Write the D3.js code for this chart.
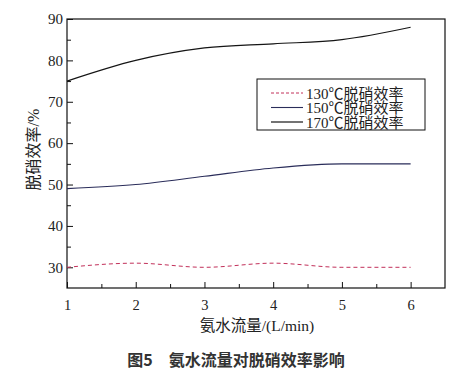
<!DOCTYPE html>
<html><head><meta charset="utf-8">
<script src="https://cdn.jsdelivr.net/npm/d3@7"></script>
<style>body{margin:0;background:#fff}svg{display:block}</style>
</head><body><svg id="c" width="473" height="378"></svg>
<script>
const flows = [1, 2, 3, 4, 5, 6];
const eff130 = [30, 31, 30, 31, 30, 30];
const eff150 = [49, 50, 52, 54, 55, 55];
const eff170 = [75, 80, 83, 84, 85, 88];
const seriesNames = ["130℃脱硝效率", "150℃脱硝效率", "170℃脱硝效率"];
const xTicks = [1, 2, 3, 4, 5, 6];
const yTicks = [30, 40, 50, 60, 70, 80, 90];

const svg = d3.select("#c");
const L = 67, R = 445, T = 19, B = 288;
const x = d3.scaleLinear().domain([1, 6.5]).range([L, R]);
const y = d3.scaleLinear().domain([25, 90]).range([B, T]);
const serif = "'Liberation Serif','Times New Roman',serif";
const cjk = "'Liberation Serif','Noto Sans CJK SC',serif";

// frame
svg.append("rect").attr("x", L).attr("y", T).attr("width", R - L).attr("height", B - T)
  .attr("fill", "none").attr("stroke", "#111").attr("stroke-width", 1.2);

// x axis
const xa = svg.append("g").attr("transform", `translate(0,${B})`)
  .call(d3.axisBottom(x).tickValues(xTicks).tickSizeInner(-6).tickSizeOuter(0).tickPadding(12).tickFormat(d3.format("d")));
xa.select(".domain").remove();
xa.selectAll("line").attr("stroke", "#111");
xa.selectAll("text").attr("font-family", serif).attr("font-size", 14.5).attr("fill", "#222");
svg.append("g").attr("transform", `translate(0,${B})`)
  .call(d3.axisBottom(x).tickValues(d3.range(1.5, 6.5, 1)).tickSize(-4).tickFormat(""))
  .call(g => g.select(".domain").remove()).selectAll("line").attr("stroke", "#111");

// y axis
const ya = svg.append("g").attr("transform", `translate(${L},0)`)
  .call(d3.axisLeft(y).tickValues(yTicks).tickSizeInner(-6).tickSizeOuter(0).tickPadding(4).tickFormat(d3.format("d")));
ya.select(".domain").remove();
ya.selectAll("line").attr("stroke", "#111");
ya.selectAll("text").attr("font-family", serif).attr("font-size", 15).attr("fill", "#222");
svg.append("g").attr("transform", `translate(${L},0)`)
  .call(d3.axisLeft(y).tickValues([35, 45, 55, 65, 75, 85]).tickSize(-4).tickFormat(""))
  .call(g => g.select(".domain").remove()).selectAll("line").attr("stroke", "#111");

// lines
const line = d3.line().x(d => x(d[0])).y(d => y(d[1])).curve(d3.curveMonotoneX);
const series = [
  {vals: eff130, color: "#c2305a", dash: "4,3", w: 1},
  {vals: eff150, color: "#2a2d5a", dash: null, w: 1.1},
  {vals: eff170, color: "#151515", dash: null, w: 1.2}
];
series.forEach(s => {
  svg.append("path").attr("d", line(flows.map((f, i) => [f, s.vals[i]])))
    .attr("fill", "none").attr("stroke", s.color).attr("stroke-width", s.w)
    .attr("stroke-dasharray", s.dash);
});

// legend
svg.append("rect").attr("x", 257).attr("y", 79).attr("width", 168).attr("height", 51)
  .attr("fill", "#fff").attr("stroke", "#111").attr("stroke-width", 1);
series.forEach((s, i) => {
  const yy = 93 + i * 14.5;
  svg.append("line").attr("x1", 271).attr("x2", 303).attr("y1", yy).attr("y2", yy)
    .attr("stroke", s.color).attr("stroke-width", s.w).attr("stroke-dasharray", s.dash ? "3,2" : null);
  svg.append("text").attr("x", 306).attr("y", yy + 5.5).text(seriesNames[i])
    .attr("font-family", cjk).attr("font-size", 15).attr("fill", "#222");
});

// axis titles
svg.append("text").attr("transform", `translate(39,${(T + B) / 2 - 4}) rotate(-90)`)
  .attr("text-anchor", "middle").text("脱硝效率/%")
  .attr("font-family", cjk).attr("font-size", 16).attr("fill", "#222");
svg.append("text").attr("x", 257).attr("y", 331).attr("text-anchor", "middle")
  .text("氨水流量/(L/min)").attr("font-family", cjk).attr("font-size", 15.5).attr("fill", "#222");

// caption
svg.append("text").attr("x", 236).attr("y", 366).attr("text-anchor", "middle")
  .text("图5　氨水流量对脱硝效率影响").attr("font-family", "'Noto Sans CJK SC',sans-serif")
  .attr("font-weight", "bold").attr("font-size", 16).attr("fill", "#333");
</script></body></html>
